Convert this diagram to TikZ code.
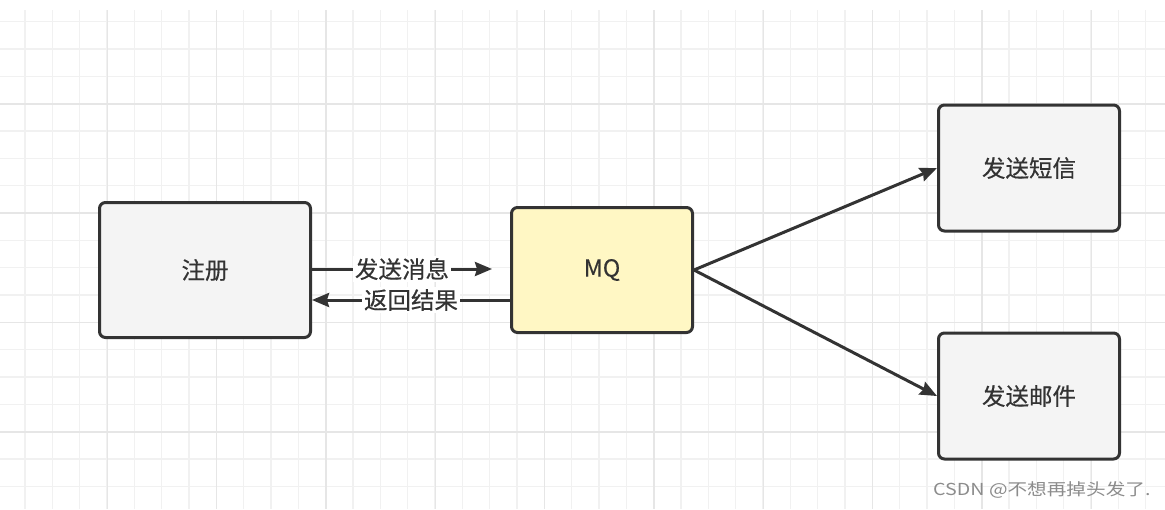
\documentclass[tikz,border=0pt]{standalone}
\usepackage{fontspec}
\setmainfont{Noto Sans CJK SC}
\newfontfamily\boxfont[FakeBold=0.4]{Noto Sans CJK SC}
\usetikzlibrary{arrows.meta}
\definecolor{edgec}{RGB}{51,51,51}
\definecolor{boxgray}{RGB}{244,244,244}
\definecolor{boxyellow}{RGB}{255,247,196}
\definecolor{gridthin}{RGB}{241,241,241}
\definecolor{gridthick}{RGB}{230,230,230}
\definecolor{wm}{RGB}{140,140,140}
\begin{document}
\begin{tikzpicture}[x=1pt,y=-1pt,
  box/.style={draw=edgec, line width=3pt, rounded corners=6pt, text=edgec,
    font=\boxfont\fontsize{23.5}{28}\selectfont, inner sep=0pt},
  arr/.style={draw=edgec, line width=3pt, -{Stealth[length=17pt,width=14pt,inset=2pt]}},
  elabel/.style={fill=white, text=edgec, font=\boxfont\fontsize{23.5}{28}\selectfont, inner sep=2pt},
  gthin/.style={draw=gridthin, line width=1.3pt},
  gthick/.style={draw=gridthick, line width=1.6pt}
]
\useasboundingbox (0,0) rectangle (1165,509);
\fill[white] (0,0) rectangle (1165,509);
% grid
\foreach \i in {0,...,41} \draw[gthin] ({25+27.333*\i},10) -- ({25+27.333*\i},509);
\foreach \j in {0,...,17} \draw[gthin] (0,{21.7+27.333*\j}) -- (1165,{21.7+27.333*\j});
\foreach \k in {0,...,9} \draw[gthick] ({107.3+109.333*\k},10) -- ({107.3+109.333*\k},509);
\foreach \k in {0,...,3} \draw[gthick] (0,{103.7+109.333*\k}) -- (1165,{103.7+109.333*\k});

% nodes
\node[box, fill=boxgray, minimum width=211pt, minimum height=135pt] (reg) at (205,270) {注册};
\node[box, fill=boxyellow, minimum width=181pt, minimum height=125pt] (mq) at (602,270) {MQ};
\node[box, fill=boxgray, minimum width=181pt, minimum height=126pt] (sms) at (1029,168) {发送短信};
\node[box, fill=boxgray, minimum width=181pt, minimum height=126pt] (mail) at (1029,396) {发送邮件};

% connectors
\coordinate (sendend) at ([yshift=1pt,xshift=-18pt]mq.west);
\draw[arr] ([yshift=1pt]reg.east) -- node[elabel]{发送消息} (sendend);
\draw[arr] ([yshift=-30pt]mq.west) -- node[elabel]{返回结果} ([yshift=-30pt]reg.east);
\draw[arr] (mq.east) -- (sms.west);
\draw[arr] (mq.east) -- (mail.west);

% watermark
\node[anchor=west, text=wm, font=\fontsize{16.5}{20}\selectfont, inner sep=0pt] (wmk) at (933,490)
  {\scalebox{1.19}[1]{CSDN @不想再掉头发了.}};
\end{tikzpicture}
\end{document}
